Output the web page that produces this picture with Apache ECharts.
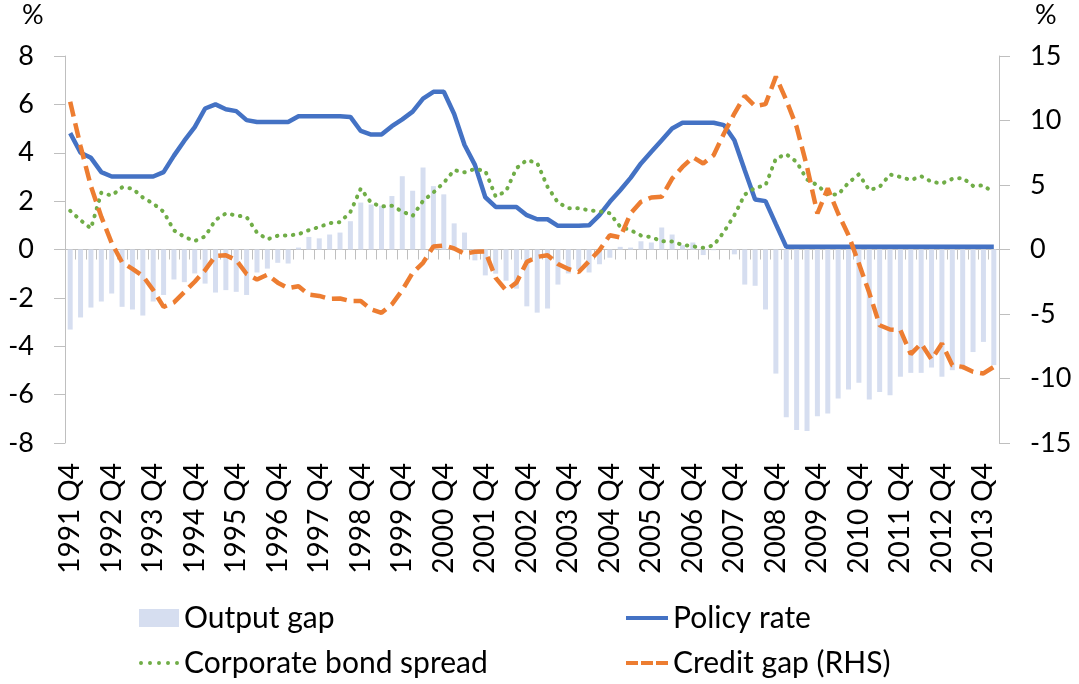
<!DOCTYPE html>
<html>
<head>
<meta charset="utf-8">
<script src="https://cdn.jsdelivr.net/npm/echarts@6/dist/echarts.min.js"></script>
<style>
html,body{margin:0;padding:0;background:#fff;}
#chart{width:1079px;height:684px;}
</style>
</head>
<body>
<div id="chart"></div>
<script>
var categories = [
"1991 Q4",
"1992 Q1","1992 Q2","1992 Q3","1992 Q4",
"1993 Q1","1993 Q2","1993 Q3","1993 Q4",
"1994 Q1","1994 Q2","1994 Q3","1994 Q4",
"1995 Q1","1995 Q2","1995 Q3","1995 Q4",
"1996 Q1","1996 Q2","1996 Q3","1996 Q4",
"1997 Q1","1997 Q2","1997 Q3","1997 Q4",
"1998 Q1","1998 Q2","1998 Q3","1998 Q4",
"1999 Q1","1999 Q2","1999 Q3","1999 Q4",
"2000 Q1","2000 Q2","2000 Q3","2000 Q4",
"2001 Q1","2001 Q2","2001 Q3","2001 Q4",
"2002 Q1","2002 Q2","2002 Q3","2002 Q4",
"2003 Q1","2003 Q2","2003 Q3","2003 Q4",
"2004 Q1","2004 Q2","2004 Q3","2004 Q4",
"2005 Q1","2005 Q2","2005 Q3","2005 Q4",
"2006 Q1","2006 Q2","2006 Q3","2006 Q4",
"2007 Q1","2007 Q2","2007 Q3","2007 Q4",
"2008 Q1","2008 Q2","2008 Q3","2008 Q4",
"2009 Q1","2009 Q2","2009 Q3","2009 Q4",
"2010 Q1","2010 Q2","2010 Q3","2010 Q4",
"2011 Q1","2011 Q2","2011 Q3","2011 Q4",
"2012 Q1","2012 Q2","2012 Q3","2012 Q4",
"2013 Q1","2013 Q2","2013 Q3","2013 Q4",
"2014 Q1"
];

var outputGap = [
-3.31,
-2.81,-2.40,-2.15,-1.82,
-2.37,-2.48,-2.73,-2.15,
-1.88,-1.24,-1.35,-0.99,
-1.41,-1.78,-1.68,-1.75,
-1.88,-0.95,-0.79,-0.55,
-0.58,0.08,0.52,0.46,
0.62,0.70,1.17,1.94,
1.86,1.81,2.21,3.03,
2.43,3.39,2.62,2.28,
1.08,0.70,-0.45,-1.07,
-1.00,-1.29,-1.62,-2.35,
-2.61,-2.44,-1.45,-0.99,
-0.83,-0.95,-0.61,-0.34,
0.11,0.08,0.34,0.29,
0.91,0.62,0.18,0.29,
-0.23,-0.03,0.00,-0.20,
-1.45,-1.50,-2.48,-5.13,
-6.94,-7.46,-7.50,-6.89,
-6.78,-6.16,-5.79,-5.51,
-6.20,-5.89,-6.03,-5.26,
-5.10,-5.10,-4.88,-5.26,
-4.99,-4.96,-4.24,-3.82,
-4.78
];

var policyRate = [
4.81,
4.00,3.79,3.20,3.02,
3.02,3.02,3.02,3.02,
3.20,3.88,4.50,5.06,
5.83,6.00,5.80,5.72,
5.35,5.27,5.27,5.27,
5.27,5.51,5.51,5.51,
5.51,5.51,5.48,4.90,
4.75,4.75,5.10,5.38,
5.70,6.24,6.52,6.52,
5.60,4.32,3.50,2.16,
1.76,1.76,1.76,1.42,
1.25,1.25,0.98,0.98,
0.98,1.00,1.42,1.97,
2.45,2.96,3.56,4.04,
4.52,5.00,5.24,5.24,
5.24,5.24,5.14,4.52,
3.28,2.07,2.00,1.05,
0.11,0.11,0.11,0.11,
0.11,0.11,0.11,0.11,
0.11,0.11,0.11,0.11,
0.11,0.11,0.11,0.11,
0.11,0.11,0.11,0.11,
0.11
];

var corporateBondSpread = [
1.60,
1.21,0.87,2.35,2.23,
2.57,2.52,2.15,1.90,
1.56,0.79,0.52,0.35,
0.54,1.22,1.49,1.41,
1.34,0.70,0.42,0.57,
0.58,0.63,0.80,0.93,
1.09,1.13,1.55,2.52,
1.93,1.78,1.81,1.57,
1.39,2.01,2.36,2.76,
3.28,3.19,3.33,3.25,
2.19,2.41,3.36,3.70,
3.58,2.59,1.94,1.71,
1.71,1.62,1.58,1.50,
0.94,0.80,0.58,0.51,
0.34,0.33,0.19,0.13,
0.07,0.17,0.73,1.42,
2.27,2.55,2.65,3.76,
3.94,3.62,2.89,2.66,
2.27,2.27,2.76,3.11,
2.45,2.59,3.10,3.00,
2.87,3.03,2.80,2.73,
2.92,2.96,2.63,2.65,
2.34
];

var creditGap = [
11.45,
8.00,4.90,2.53,0.50,
-1.00,-1.50,-2.05,-3.15,
-4.45,-4.10,-3.30,-2.50,
-1.60,-0.50,-0.44,-0.83,
-1.90,-2.33,-1.95,-2.57,
-3.00,-2.85,-3.50,-3.60,
-3.83,-3.80,-4.00,-4.00,
-4.63,-4.91,-4.25,-3.15,
-1.80,-1.03,0.23,0.31,
0.08,-0.33,-0.18,-0.15,
-2.20,-3.17,-2.57,-0.96,
-0.57,-0.44,-1.12,-1.51,
-1.75,-0.90,-0.05,1.11,
0.93,2.79,3.70,4.03,
4.08,5.50,6.40,7.15,
6.67,7.31,8.99,10.54,
11.91,11.11,11.27,13.40,
11.58,9.51,6.41,2.79,
4.73,2.79,1.11,-1.09,
-3.36,-5.87,-6.20,-6.25,
-8.11,-7.29,-8.53,-7.29,
-8.97,-9.10,-9.48,-9.61,
-9.10
];

var leftTicks = {min: -8, max: 8, interval: 2};
var rightTicks = {min: -15, max: 15, interval: 5};

var FONT = 'Lato';
var AXIS_GREY = '#BFBFBF';
var legendText = {fontFamily: FONT, fontSize: 30, color: '#000'};

var solidIcon = 'path://M0,0h42v4h-42z';
var dashIcon = 'path://M0,0h12v4h-12zM15,0h12v4h-12zM30,0h12v4h-12z';
var dotIcon = 'path://M0,2a2,2 0 1,1 4,0a2,2 0 1,1 -4,0zM9,2a2,2 0 1,1 4,0a2,2 0 1,1 -4,0zM18,2a2,2 0 1,1 4,0a2,2 0 1,1 -4,0zM27,2a2,2 0 1,1 4,0a2,2 0 1,1 -4,0zM36,2a2,2 0 1,1 4,0a2,2 0 1,1 -4,0z';

var chart = echarts.init(document.getElementById('chart'), null, {renderer: 'canvas'});
chart.setOption({
  animation: false,
  backgroundColor: '#fff',
  grid: {left: 65, right: 80, top: 56, bottom: 241, containLabel: false},
  xAxis: [
    {
      type: 'category', data: categories, position: 'bottom', boundaryGap: true,
      axisLine: {show: false, onZero: false},
      axisTick: {show: false},
      axisLabel: {interval: 3, rotate: 90, margin: 20, fontFamily: FONT, fontSize: 28, color: '#000'},
      splitLine: {show: false}
    },
    {
      type: 'category', data: categories, position: 'bottom', boundaryGap: true,
      axisLine: {show: true, onZero: true, onZeroAxisIndex: 0, lineStyle: {color: AXIS_GREY, width: 1}},
      axisTick: {show: true, interval: 0, length: 10, alignWithLabel: false, lineStyle: {color: AXIS_GREY, width: 1}},
      axisLabel: {show: false},
      splitLine: {show: false}
    }
  ],
  yAxis: [
    {
      type: 'value', position: 'left', min: leftTicks.min, max: leftTicks.max, interval: leftTicks.interval,
      axisLine: {show: true, onZero: false, lineStyle: {color: AXIS_GREY, width: 1}},
      axisTick: {show: true, length: 11, lineStyle: {color: AXIS_GREY, width: 1}},
      axisLabel: {margin: 31, fontFamily: FONT, fontSize: 27, color: '#000'},
      splitLine: {show: false}
    },
    {
      type: 'value', position: 'right', min: rightTicks.min, max: rightTicks.max, interval: rightTicks.interval,
      axisLine: {show: true, onZero: false, lineStyle: {color: AXIS_GREY, width: 1}},
      axisTick: {show: true, length: 11, lineStyle: {color: AXIS_GREY, width: 1}},
      axisLabel: {margin: 31, fontFamily: FONT, fontSize: 27, color: '#000'},
      splitLine: {show: false}
    }
  ],
  legend: [
    {data: [{name: 'Output gap', icon: 'rect'}], left: 139, top: 603, padding: 0, itemWidth: 40, itemHeight: 18, textStyle: legendText, selectedMode: false},
    {data: [{name: 'Policy rate', icon: solidIcon}], left: 626, top: 603, padding: 0, itemWidth: 42, itemHeight: 4.5, textStyle: legendText, selectedMode: false},
    {data: [{name: 'Corporate bond spread', icon: dotIcon}], left: 139, top: 648, padding: 0, itemWidth: 40, itemHeight: 4, textStyle: legendText, selectedMode: false},
    {data: [{name: 'Credit gap (RHS)', icon: dashIcon}], left: 626, top: 648, padding: 0, itemWidth: 42, itemHeight: 4, textStyle: legendText, selectedMode: false}
  ],
  graphic: [
    {type: 'text', left: 22, top: 2, style: {text: '%', fontFamily: FONT, fontSize: 27, fill: '#000'}},
    {type: 'text', left: 1035, top: 2, style: {text: '%', fontFamily: FONT, fontSize: 27, fill: '#000'}}
  ],
  series: [
    {
      name: 'Output gap', type: 'bar', xAxisIndex: 0, yAxisIndex: 0, data: outputGap,
      barWidth: 5, itemStyle: {color: '#D6DEF0'}, z: 1
    },
    {
      name: 'Policy rate', type: 'line', xAxisIndex: 0, yAxisIndex: 0, data: policyRate,
      symbol: 'none', smooth: false, lineStyle: {color: '#4472C4', width: 4.5}, itemStyle: {color: '#4472C4'}, z: 3
    },
    {
      name: 'Corporate bond spread', type: 'line', xAxisIndex: 0, yAxisIndex: 0, data: corporateBondSpread,
      symbol: 'none', smooth: false, lineStyle: {color: '#70AD47', width: 4, type: [0.5, 7.5], cap: 'round'}, itemStyle: {color: '#70AD47'}, z: 4
    },
    {
      name: 'Credit gap (RHS)', type: 'line', xAxisIndex: 0, yAxisIndex: 1, data: creditGap,
      symbol: 'none', smooth: false, lineStyle: {color: '#ED7D31', width: 4.5, type: [15, 7], cap: 'butt'}, itemStyle: {color: '#ED7D31'}, z: 5
    }
  ]
});
</script>
</body>
</html>
